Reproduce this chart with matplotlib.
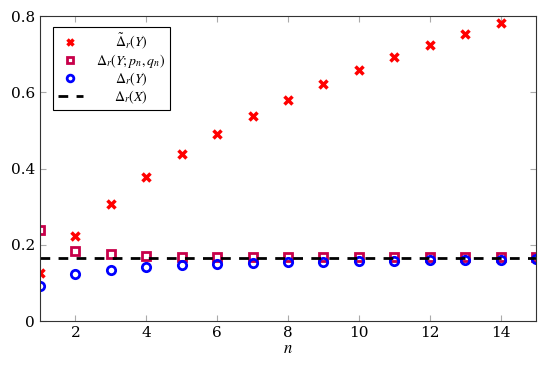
import numpy as np
import matplotlib.pyplot as plt

plt.rcParams['font.family'] = 'DejaVu Serif'
plt.rcParams['mathtext.fontset'] = 'stix'

n = np.arange(1, 16)
delta_tilde = [0.125, 0.223, 0.307, 0.378, 0.437, 0.490, 0.537, 0.581, 0.622, 0.658,
               0.692, 0.723, 0.754, 0.782]
delta_pq = [0.239, 0.184, 0.175, 0.171, 0.169, 0.168, 0.168, 0.167, 0.167, 0.167,
            0.167, 0.167, 0.167, 0.167, 0.167]
delta_y = [0.092, 0.123, 0.134, 0.142, 0.147, 0.150, 0.152, 0.154, 0.156, 0.157,
           0.158, 0.159, 0.160, 0.161, 0.162]
delta_x = 1 / 6

fig = plt.figure(figsize=(5.5, 3.67), dpi=100)
ax = fig.add_axes([0.0727, 0.1253, 0.9018, 0.8307])

ax.plot(n[:len(delta_tilde)], delta_tilde, 'x', color='red', ms=5.5, mew=2.5,
        linestyle='none', label=r'$\tilde{\Delta}_r(Y)$')
ax.plot(n, delta_pq, 's', color='#c8004a', mfc='none', ms=6, mew=2,
        linestyle='none', label=r'$\Delta_r(Y;p_n,q_n)$')
ax.plot(n, delta_y, 'o', color='blue', mfc='none', ms=6, mew=2,
        linestyle='none', label=r'$\Delta_r(Y)$')
ax.axhline(delta_x, color='black', lw=2, dashes=(3.5, 3), label=r'$\Delta_r(X)$')

ax.set_xlim(1, 15)
ax.set_ylim(0, 0.8)
ax.set_xticks(range(2, 15, 2))
ax.set_yticks([0, 0.2, 0.4, 0.6, 0.8])
ax.set_yticklabels(['0', '0.2', '0.4', '0.6', '0.8'])
ax.tick_params(direction='in', top=True, right=True, length=4, color='#aaaaaa',
               labelsize=11)
for s in ax.spines.values():
    s.set_color('#333333')
ax.set_xlabel(r'$n$', fontsize=12, labelpad=0)

leg = ax.legend(loc='upper left', bbox_to_anchor=(0.013, 0.987), fontsize=10,
                fancybox=False, edgecolor='black', framealpha=1,
                handlelength=1.8, handletextpad=1.0, borderpad=0.3,
                labelspacing=0.05, markerscale=0.8)
leg.get_frame().set_linewidth(0.8)

# centre the labels like pgfplots does
fig.canvas.draw()
r = fig.canvas.get_renderer()
widths = [t.get_window_extent(r).width for t in leg.get_texts()]
wmax = max(widths)
for t, w in zip(leg.get_texts(), widths):
    t.set_position(((wmax - w) / 2, 0))

fig.savefig('out.png', dpi=100)
